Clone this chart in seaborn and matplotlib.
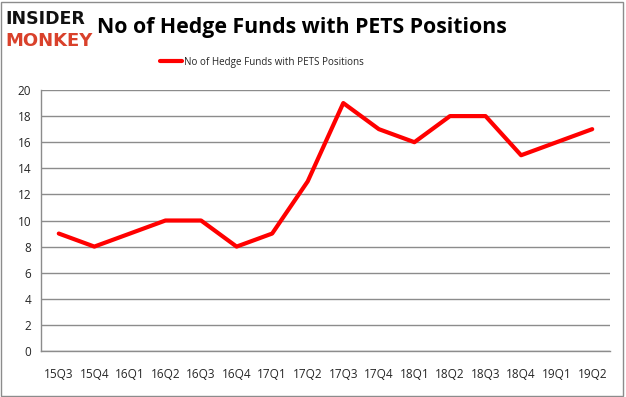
import matplotlib
matplotlib.use("Agg")
import matplotlib.pyplot as plt
import seaborn as sns
import pandas as pd
import numpy as np
from matplotlib.patches import Rectangle

quarters = ["15Q3", "15Q4", "16Q1", "16Q2", "16Q3", "16Q4", "17Q1", "17Q2",
            "17Q3", "17Q4", "18Q1", "18Q2", "18Q3", "18Q4", "19Q1", "19Q2"]
funds = [9, 8, 9, 10, 10, 8, 9, 13, 19, 17, 16, 18, 18, 15, 16, 17]
yticks = [0, 2, 4, 6, 8, 10, 12, 14, 16, 18, 20]
series_name = "No of Hedge Funds with PETS Positions"

sns.set_style("white")
plt.rcParams['font.family'] = ['Open Sans', 'DejaVu Sans']

df = pd.DataFrame({"quarter": quarters, "funds": funds, "x": np.arange(len(quarters))})

fig = plt.figure(figsize=(6.26, 3.97), dpi=100)
ax = fig.add_axes([41/626, 46/397, 569/626, 261/397])

for y in yticks:
    ax.axhline(y, color="#8c8c8c", lw=1, zorder=0)

sns.lineplot(data=df, x="x", y="funds", color="#ff0000", lw=3, ax=ax,
             label=series_name, legend=False, zorder=3)

ax.set_xlim(-0.5, len(quarters) - 0.5)
ax.set_ylim(0, 20)
ax.set_yticks(yticks)
ax.set_yticklabels([str(v) for v in yticks], fontsize=8.5)
ax.set_xticks(np.arange(len(quarters)))
ax.set_xticklabels(quarters, fontsize=8.5)
ax.set_xticks(np.arange(-0.5, len(quarters)), minor=True)
ax.tick_params(axis="x", which="major", length=0, pad=12)
ax.tick_params(axis="x", which="minor", length=4, color="#8c8c8c", direction="out")
ax.tick_params(axis="y", length=4, color="#8c8c8c", direction="out", pad=3)
ax.set_xlabel("")
ax.set_ylabel("")
for side in ["top", "right"]:
    ax.spines[side].set_visible(False)
for side in ["left", "bottom"]:
    ax.spines[side].set_color("#8c8c8c")
    ax.spines[side].set_linewidth(1)

# legend
h, l = ax.get_legend_handles_labels()
fig.legend(h, l, loc="center", bbox_to_anchor=(262/626, 1 - 62/397), frameon=False,
           fontsize=7.1, handlelength=2.2, handletextpad=0.2)

# title
fig.text(302/626, 1 - 27/397, series_name, ha="center", va="center", fontsize=15.3,
         fontweight="bold", color="#000000")

# logo
fig.text(5/626, 1 - 19/397, "INSIDER", ha="left", va="center", fontsize=12.5,
         fontweight="heavy", color="#111111", family=["DejaVu Sans"])
fig.text(5/626, 1 - 41/397, "MONKEY", ha="left", va="center", fontsize=13,
         fontweight="heavy", color="#d9412b", family=["DejaVu Sans"])

# figure border
fig.patches.append(Rectangle((0.002, 0.003), 0.994, 0.993, transform=fig.transFigure,
                             fill=False, edgecolor="#8c8c8c", lw=1))

fig.savefig("out.png", dpi=100)
